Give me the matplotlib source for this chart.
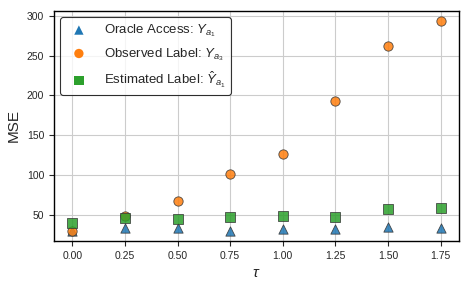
import matplotlib
matplotlib.use("Agg")
import matplotlib.pyplot as plt
import seaborn as sns

tau = [0.0, 0.25, 0.5, 0.75, 1.0, 1.25, 1.5, 1.75]
oracle = [31, 34, 34, 31, 33, 33, 35, 34]
observed = [31, 49, 68, 102, 127, 193, 262, 293]
estimated = [40, 47, 46, 48, 49, 48, 58, 59]

sns.set_style("ticks")
plt.rcParams['font.family'] = ['Liberation Sans', 'DejaVu Sans']
plt.rcParams['mathtext.fontset'] = 'custom'
plt.rcParams['mathtext.it'] = 'Liberation Sans:italic'
plt.rcParams['mathtext.rm'] = 'Liberation Sans'

fig, ax = plt.subplots(figsize=(4.68, 2.88), dpi=100)
fig.subplots_adjust(left=0.115, right=0.981, top=0.963, bottom=0.163)
ax.grid(True, color='#cccccc', linewidth=0.8)
ax.set_axisbelow(True)

kw = dict(s=45, edgecolors='#333333', linewidths=0.6, alpha=0.85, zorder=3)
ax.scatter(tau, oracle, marker='^', color='#1f77b4', label=r'Oracle Access: $Y_{a_1}$', **kw)
ax.scatter(tau, observed, marker='o', color='#ff7f0e', label=r'Observed Label: $Y_{a_3}$', **kw)
ax.scatter(tau, estimated, marker='s', color='#2ca02c', label=r'Estimated Label: $\hat{Y}_{a_1}$', **kw)

ax.set_xlabel(r'$\tau$', fontsize=11)
ax.set_ylabel('MSE', fontsize=11)
ax.set_xticks(tau)
ax.set_xticklabels([f'{t:.2f}' for t in tau])
ax.tick_params(labelsize=7.5)
for s in ax.spines.values():
    s.set_color('black')
    s.set_linewidth(1.0)

leg = ax.legend(loc='upper left', fontsize=9.5, frameon=True, fancybox=True,
                edgecolor='black', labelspacing=0.52, handletextpad=0.9,
                borderaxespad=0.5)
leg.get_frame().set_linewidth(0.8)
for h in leg.legend_handles:
    h.set_edgecolor('none')
    h.set_alpha(1.0)

fig.savefig('out.png', dpi=100)
